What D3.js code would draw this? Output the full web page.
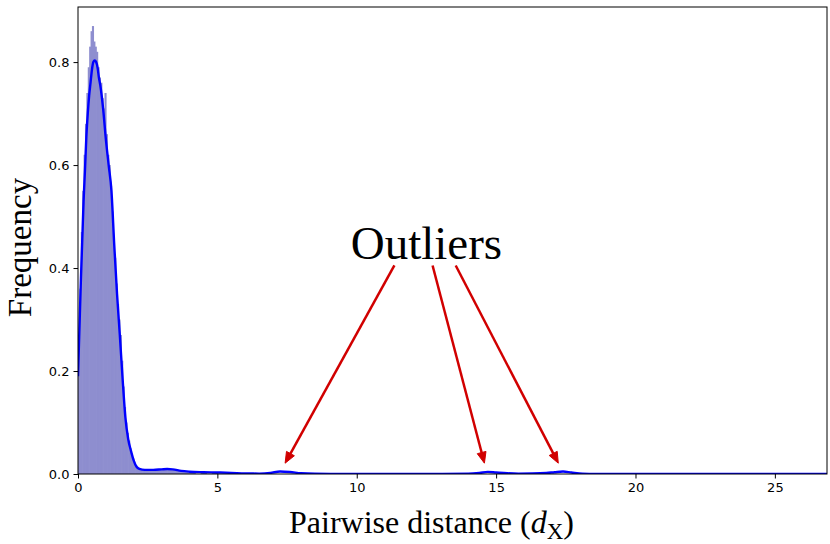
<!DOCTYPE html>
<html><head><meta charset="utf-8">
<script src="https://cdn.jsdelivr.net/npm/d3@7"></script>
<style>
html,body{margin:0;padding:0;background:#fff;}
svg{display:block;}
</style></head>
<body>
<svg id="chart" width="830" height="544"></svg>
<script>
// ---- data ----
const binWidth = 0.05;
const binStarts = d3.range(0, 2.6, 0.05).map(v => +v.toFixed(2));
const binHeights = [0.24,0.36,0.47,0.55,0.62,0.68,0.74,0.79,0.83,0.86,
                    0.87,0.84,0.83,0.82,0.79,0.77,0.76,0.73,0.71,0.74,
                    0.66,0.62,0.60,0.56,0.51,0.46,0.42,0.37,0.33,0.30,
                    0.27,0.22,0.17,0.13,0.10,0.08,0.065,0.05,0.04,0.03,
                    0.022,0.017,0.014,0.012,0.010,0.009,0.009,0.008,0.008,0.008,
                    0.008,0.008];
const tailBinStarts = [2.6,2.8,3.0,3.2,3.4,3.6,3.8,4.0,4.4,4.8];
const tailBinHeights = [0.008,0.008,0.009,0.009,0.008,0.006,0.005,0.004,0.003,0.003];
const tailBinWidth = 0.2;

const kdeX = [0,0.05,0.1,0.15,0.2,0.25,0.3,0.35,0.4,0.45,0.5,0.55,0.6,0.65,0.7,0.75,0.8,0.9,1.0,1.1,1.2,1.3,1.4,1.5,1.6,1.7,1.8,1.9,2.0,2.1,2.2,2.4,2.7,3.0,3.2,3.4,3.7,4.0,4.5,5.0,5.5,6.0,6.5,6.9,7.25,7.6,8.0,8.5,9.5,11,13,14.0,14.4,14.7,15.0,15.4,15.8,16.3,16.8,17.1,17.4,17.7,18.1,18.6,20,23,26.9];
const kdeY = [0.19,0.28,0.37,0.45,0.53,0.59,0.655,0.70,0.735,0.76,0.785,0.80,0.803,0.80,0.79,0.77,0.755,0.71,0.65,0.60,0.55,0.445,0.35,0.27,0.185,0.11,0.068,0.045,0.026,0.014,0.010,0.008,0.008,0.009,0.0097,0.009,0.006,0.0045,0.0035,0.003,0.0022,0.001,0.0008,0.002,0.005,0.004,0.0015,0.0005,0.0002,0.0001,0.0001,0.0004,0.002,0.0042,0.003,0.0015,0.0008,0.001,0.002,0.0035,0.0048,0.003,0.0008,0.0001,0,0,0];

const xTicks = [0,5,10,15,20,25];
const yTicks = [0.0,0.2,0.4,0.6,0.8];
const xDomain = [0, 26.87];
const yDomain = [0, 0.907];

const annotationText = "Outliers";
const annotationPos = [12.5, 0.448];
const arrowStarts = [[11.35,0.405],[12.72,0.405],[13.55,0.405]];
const arrowTargets = [[7.43,0.021],[14.58,0.021],[17.23,0.021]];

// ---- layout ----
const svg = d3.select("#chart");
const L = 78, R = 827, T = 7, B = 474;
const x = d3.scaleLinear().domain(xDomain).range([L, R]);
const y = d3.scaleLinear().domain(yDomain).range([B, T]);

svg.append("defs").append("clipPath").attr("id","plotclip")
  .append("rect").attr("x",L).attr("y",T).attr("width",R-L).attr("height",B-T);

const plot = svg.append("g").attr("clip-path","url(#plotclip)");

// histogram bars
const bars = binStarts.map((s,i)=>({x0:s, x1:s+binWidth, h:binHeights[i]}))
  .concat(tailBinStarts.map((s,i)=>({x0:s, x1:s+tailBinWidth, h:tailBinHeights[i]})));
plot.append("g").selectAll("rect").data(bars).join("rect")
  .attr("x", d=>x(d.x0))
  .attr("width", d=>x(d.x1)-x(d.x0)+0.7)
  .attr("y", d=>y(d.h))
  .attr("height", d=>y(0)-y(d.h))
  .attr("fill", "#8e8ecf");

// KDE line
const kde = kdeX.map((v,i)=>[v,kdeY[i]]);
plot.append("path").datum(kde)
  .attr("d", d3.line().x(d=>x(d[0])).y(d=>y(d[1])).curve(d3.curveMonotoneX))
  .attr("fill","none").attr("stroke","#0000ff").attr("stroke-width",2.4)
  .attr("stroke-linejoin","round");

// axes
const xAxis = svg.append("g").attr("transform",`translate(0,${B})`)
  .call(d3.axisBottom(x).tickValues(xTicks).tickFormat(d3.format("d")).tickSize(4.5).tickPadding(4));
const yAxis = svg.append("g").attr("transform",`translate(${L},0)`)
  .call(d3.axisLeft(y).tickValues(yTicks).tickFormat(d3.format(".1f")).tickSize(4.5).tickPadding(4));
[xAxis,yAxis].forEach(a=>{
  a.select(".domain").remove();
  a.selectAll("text").attr("font-family","DejaVu Sans").attr("font-size","13px").attr("fill","#000");
  a.selectAll("line").attr("stroke","#000").attr("stroke-width",1);
});
// frame
svg.append("rect").attr("x",L).attr("y",T).attr("width",R-L).attr("height",B-T)
  .attr("fill","none").attr("stroke","#000").attr("stroke-width",1);

// axis labels
const xl = svg.append("text").attr("x",(L+R)/2 - 21).attr("y",533)
  .attr("text-anchor","middle").attr("font-family","Liberation Serif").attr("font-size","32px").attr("fill","#000");
xl.append("tspan").text("Pairwise distance (");
xl.append("tspan").attr("font-style","italic").text("d");
xl.append("tspan").attr("font-size","23px").attr("dy",6).text("X");
xl.append("tspan").attr("dy",-6).text(")");

svg.append("text").attr("transform",`translate(31,${(T+B)/2 + 7}) rotate(-90)`)
  .attr("text-anchor","middle").attr("font-family","Liberation Serif").attr("font-size","33px").attr("fill","#000")
  .text("Frequency");

// annotation
svg.append("text").attr("x",x(annotationPos[0])).attr("y",y(annotationPos[1])+16)
  .attr("text-anchor","middle").attr("font-family","Liberation Serif").attr("font-size","47px").attr("fill","#000")
  .text(annotationText);

const red = "#d10000";
arrowStarts.forEach((s,i)=>{
  const t = arrowTargets[i];
  const x1 = x(s[0]), y1 = y(s[1]), x2 = x(t[0]), y2 = y(t[1]);
  const ang = Math.atan2(y2-y1, x2-x1);
  const hl = 11, hw = 4.5;
  const bx = x2 - hl*Math.cos(ang), by = y2 - hl*Math.sin(ang);
  svg.append("line").attr("x1",x1).attr("y1",y1).attr("x2",bx+2*Math.cos(ang)).attr("y2",by+2*Math.sin(ang))
    .attr("stroke",red).attr("stroke-width",2.5);
  const px = -Math.sin(ang), py = Math.cos(ang);
  svg.append("path").attr("d",`M${x2},${y2}L${bx+hw*px},${by+hw*py}L${bx-hw*px},${by-hw*py}Z`)
    .attr("fill",red).attr("stroke",red).attr("stroke-width",1).attr("stroke-linejoin","miter");
});
</script>
</body></html>
